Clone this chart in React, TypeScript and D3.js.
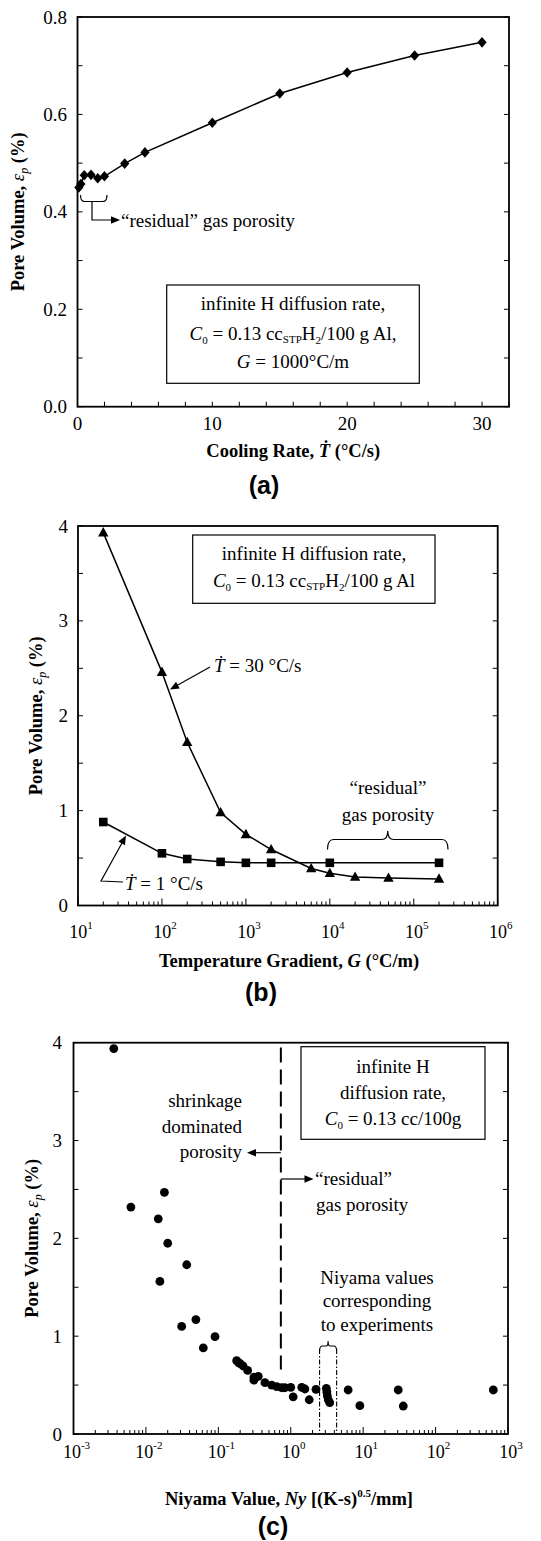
import React from "react";
import * as d3 from "d3";

// ---------- Panel (a): pore volume vs cooling rate ----------
const coolingRate = [0.1, 0.25, 0.5, 1, 1.5, 2, 3.5, 5, 10, 15, 20, 25, 30];
const poreVolumeA = [0.45, 0.457, 0.475, 0.476, 0.469, 0.473, 0.499, 0.522, 0.583, 0.643, 0.686, 0.721, 0.748];
const xTickLabelsA = [0, 10, 20, 30];
const yTickLabelsA = ["0.0", "0.2", "0.4", "0.6", "0.8"];

// ---------- Panel (b): pore volume vs temperature gradient ----------
const gradient30 = [20, 100, 200, 500, 1000, 2000, 6000, 1e4, 2e4, 5e4, 2e5];
const poreVolume30 = [3.93, 2.46, 1.72, 0.98, 0.75, 0.59, 0.39, 0.34, 0.3, 0.29, 0.28];
const gradient1 = [20, 100, 200, 500, 1000, 2000, 1e4, 2e5];
const poreVolume1 = [0.88, 0.55, 0.49, 0.46, 0.45, 0.45, 0.45, 0.45];
const xDecadesB = [1, 2, 3, 4, 5, 6];
const yTickLabelsB = [0, 1, 2, 3, 4];

// ---------- Panel (c): pore volume vs Niyama value ----------
const niyama = [0.0036, 0.0062, 0.0148, 0.0156, 0.018, 0.02, 0.0312, 0.0366, 0.049, 0.062, 0.09,
  0.179, 0.19, 0.2, 0.22, 0.254, 0.31, 0.31, 0.356, 0.44, 0.545, 0.64, 0.75, 0.83, 1.0, 1.08,
  1.42, 1.57, 1.8, 2.23, 3.1, 3.15, 3.2, 3.3, 3.45, 6.2, 9.0, 30.5, 35.8, 627];
const poreVolumeC = [3.94, 2.32, 2.2, 1.56, 2.47, 1.95, 1.1, 1.73, 1.17, 0.88, 0.995,
  0.75, 0.73, 0.72, 0.695, 0.65, 0.58, 0.55, 0.59, 0.525, 0.5, 0.485, 0.473, 0.473, 0.477, 0.38,
  0.477, 0.46, 0.35, 0.457, 0.467, 0.43, 0.39, 0.35, 0.32, 0.45, 0.29, 0.45, 0.286, 0.45];
const xDecadesC = [-3, -2, -1, 0, 1, 2, 3];
const yTickLabelsC = [0, 1, 2, 3, 4];
const niyamaDivide = 0.73;
const niyamaExperiments = [2.5, 4.3];

const serif = "'Liberation Serif','Times New Roman',serif";
const sans = "'Liberation Sans',Arial,sans-serif";

function arrowHead(x1: number, y1: number, x2: number, y2: number, len = 9, w = 3.8) {
  const a = Math.atan2(y2 - y1, x2 - x1);
  const bx = x2 - len * Math.cos(a), by = y2 - len * Math.sin(a);
  const px = -Math.sin(a) * w, py = Math.cos(a) * w;
  return `M${x2},${y2}L${bx + px},${by + py}L${bx - px},${by - py}Z`;
}

function braceDown(xL: number, xR: number, yEnd: number, yMid: number, tipY: number) {
  const xc = (xL + xR) / 2;
  const r = 6;
  return `M${xL},${yEnd}Q${xL},${yMid} ${xL + r},${yMid}L${xc - r},${yMid}Q${xc},${yMid} ${xc},${tipY}` +
    `Q${xc},${yMid} ${xc + r},${yMid}L${xR - r},${yMid}Q${xR},${yMid} ${xR},${yEnd}`;
}

function YTitle({ x, y }: { x: number; y: number }) {
  return (
    <text transform={`translate(${x},${y}) rotate(-90)`} textAnchor="middle" fontWeight="bold" fontSize={18.5} fontFamily={serif}>
      Pore Volume, <tspan fontStyle="italic" fontWeight="normal">ε</tspan>
      <tspan fontStyle="italic" fontWeight="normal" fontSize={12} dy={4}>p</tspan>
      <tspan dy={-4}> (%)</tspan>
    </text>
  );
}

function C0Line({ x, y, rest }: { x: number; y: number; rest: React.ReactNode }) {
  return (
    <text x={x} y={y} textAnchor="middle" fontSize={19} fontFamily={serif}>
      <tspan fontStyle="italic">C</tspan>
      <tspan fontSize={11} dy={4}>0</tspan>
      <tspan dy={-4}> = 0.13 cc</tspan>
      {rest}
    </text>
  );
}

export default function App() {
  // scales
  const xA = d3.scaleLinear().domain([0, 32]).range([77.5, 509]);
  const yA = d3.scaleLinear().domain([0, 0.8]).range([406.7, 17]);
  const xB = d3.scaleLog().domain([10, 1e6]).range([78, 497.7]);
  const yB = d3.scaleLinear().domain([0, 4]).range([905.5, 526]);
  const xC = d3.scaleLog().domain([1e-3, 1e3]).range([73.5, 508]);
  const yC = d3.scaleLinear().domain([0, 4]).range([1434, 1042.7]);

  const lineA = d3.line<number>().x((_, i) => xA(coolingRate[i])).y((d) => yA(d));
  const line30 = d3.line<number>().x((_, i) => xB(gradient30[i])).y((d) => yB(d));
  const line1 = d3.line<number>().x((_, i) => xB(gradient1[i])).y((d) => yB(d));

  const diamond = (cx: number, cy: number) => `M${cx},${cy - 5.3}L${cx + 4.6},${cy}L${cx},${cy + 5.3}L${cx - 4.6},${cy}Z`;
  const triangle = (cx: number, cy: number) => `M${cx},${cy - 5.6}L${cx + 5.2},${cy + 3.8}L${cx - 5.2},${cy + 3.8}Z`;
  const square = (cx: number, cy: number) => `M${cx - 4.3},${cy - 4.3}h8.6v8.6h-8.6Z`;

  const frameW = 1.8;
  const lw = 1.5;

  // Panel a ticks
  const [a0, a1] = xA.range();
  const [ayb, ayt] = yA.range();
  const ticksAx = xA.ticks(16);
  const ticksAy = yA.ticks(8);

  // Panel b ticks
  const [b0, b1] = xB.range();
  const [byb, byt] = yB.range();
  const ticksBx = xB.ticks();
  const ticksBy = yB.ticks(8);

  // Panel c ticks
  const [c0, c1] = xC.range();
  const [cyb, cyt] = yC.range();
  const ticksCx = xC.ticks();
  const ticksCy = yC.ticks(8);

  const isMajor = (v: number) => Math.abs(Math.log10(v) - Math.round(Math.log10(v))) < 1e-9;

  const xDiv = xC(niyamaDivide);

  return (
    <svg width={541} height={1541} style={{ position: "absolute", left: 0, top: 0, background: "#fff" }} fontFamily={serif}>
      <rect x={0} y={0} width={541} height={1541} fill="#fff" />

      {/* ================= Panel (a) ================= */}
      <g>
        {ticksAx.map((t) => (
          <line key={"ax" + t} x1={xA(t)} x2={xA(t)} y1={ayb} y2={ayb - 5} stroke="#000" strokeWidth={1} />
        ))}
        {ticksAy.map((t) => (
          <g key={"ay" + t}>
            <line x1={a0} x2={a0 + 5} y1={yA(t)} y2={yA(t)} stroke="#000" strokeWidth={1} />
            <line x1={a1} x2={a1 - 5} y1={yA(t)} y2={yA(t)} stroke="#000" strokeWidth={1} />
          </g>
        ))}
        <rect x={a0} y={ayt} width={a1 - a0} height={ayb - ayt} fill="none" stroke="#000" strokeWidth={frameW} />
        {yTickLabelsA.map((l) => (
          <text key={"ayl" + l} x={67} y={yA(+l) + 6.5} textAnchor="end" fontSize={19}>{l}</text>
        ))}
        {xTickLabelsA.map((l) => (
          <text key={"axl" + l} x={xA(l)} y={430} textAnchor="middle" fontSize={19}>{l}</text>
        ))}
        <path d={lineA(poreVolumeA) || ""} fill="none" stroke="#000" strokeWidth={lw} />
        {poreVolumeA.map((v, i) => (
          <path key={"am" + i} d={diamond(xA(coolingRate[i]), yA(v))} fill="#000" />
        ))}
        {/* residual bracket */}
        <path d="M80.5,195Q80.5,201.5 84.5,201.5L103,201.5Q107,201.5 107,195M92,201.5L92,220L113,220" fill="none" stroke="#000" strokeWidth={1.2} />
        <path d={arrowHead(100, 220, 120, 220)} fill="#000" />
        <text x={121} y={226.5} fontSize={19}>“residual” gas porosity</text>
        {/* box */}
        <rect x={166.7} y={285} width={252.6} height={98.3} fill="#fff" stroke="#000" strokeWidth={1.2} />
        <text x={293} y={310} textAnchor="middle" fontSize={19}>infinite H diffusion rate,</text>
        <C0Line x={293} y={340} rest={<>
          <tspan fontSize={11} dy={3}>STP</tspan>
          <tspan dy={-3}>H</tspan>
          <tspan fontSize={11} dy={4}>2</tspan>
          <tspan dy={-4}>/100 g Al,</tspan>
        </>} />
        <text x={293} y={368} textAnchor="middle" fontSize={19}>
          <tspan fontStyle="italic">G</tspan> = 1000°C/m
        </text>
        <YTitle x={24} y={(ayb + ayt) / 2} />
        <text x={(a0 + a1) / 2} y={457} textAnchor="middle" fontWeight="bold" fontSize={18.5}>
          Cooling Rate, <tspan fontStyle="italic">Ṫ</tspan>  (°C/s)
        </text>
        <text x={264} y={494} textAnchor="middle" fontWeight="bold" fontSize={25} fontFamily={sans}>(a)</text>
      </g>

      {/* ================= Panel (b) ================= */}
      <g>
        {ticksBx.map((t, i) => (
          <line key={"bx" + i} x1={xB(t)} x2={xB(t)} y1={byb} y2={byb - (isMajor(t) ? 7 : 4)} stroke="#000" strokeWidth={1} />
        ))}
        {ticksBy.map((t) => (
          <g key={"by" + t}>
            <line x1={b0} x2={b0 + 5} y1={yB(t)} y2={yB(t)} stroke="#000" strokeWidth={1} />
            <line x1={b1} x2={b1 - 5} y1={yB(t)} y2={yB(t)} stroke="#000" strokeWidth={1} />
          </g>
        ))}
        <rect x={b0} y={byt} width={b1 - b0} height={byb - byt} fill="none" stroke="#000" strokeWidth={frameW} />
        {yTickLabelsB.map((l) => (
          <text key={"byl" + l} x={68} y={yB(l) + 6.5} textAnchor="end" fontSize={19}>{l}</text>
        ))}
        {xDecadesB.map((e) => (
          <text key={"bxl" + e} x={xB(Math.pow(10, e)) + 3} y={938} textAnchor="middle" fontSize={18}>
            10<tspan fontSize={11} dy={-9}>{e}</tspan>
          </text>
        ))}
        <path d={line30(poreVolume30) || ""} fill="none" stroke="#000" strokeWidth={lw} />
        <path d={line1(poreVolume1) || ""} fill="none" stroke="#000" strokeWidth={lw} />
        {poreVolume30.map((v, i) => (
          <path key={"bt" + i} d={triangle(xB(gradient30[i]), yB(v))} fill="#000" />
        ))}
        {poreVolume1.map((v, i) => (
          <path key={"bs" + i} d={square(xB(gradient1[i]), yB(v))} fill="#000" />
        ))}
        {/* box */}
        <rect x={192.7} y={535} width={242.3} height={68.3} fill="#fff" stroke="#000" strokeWidth={1.2} />
        <text x={314} y={560} textAnchor="middle" fontSize={19}>infinite H diffusion rate,</text>
        <C0Line x={314} y={587} rest={<>
          <tspan fontSize={11} dy={3}>STP</tspan>
          <tspan dy={-3}>H</tspan>
          <tspan fontSize={11} dy={4}>2</tspan>
          <tspan dy={-4}>/100 g Al</tspan>
        </>} />
        {/* T = 30 label */}
        <line x1={210} y1={667} x2={176} y2={686} stroke="#000" strokeWidth={1.2} />
        <path d={arrowHead(210, 667, 170, 689.5)} fill="#000" />
        <text x={214} y={672} fontSize={19}>
          <tspan fontStyle="italic">Ṫ</tspan> = 30 °C/s
        </text>
        {/* T = 1 label */}
        <path d="M123,882L101,881L122,843" fill="none" stroke="#000" strokeWidth={1.2} />
        <path d={arrowHead(101, 881, 126, 835.5)} fill="#000" />
        <text x={125} y={890} fontSize={19}>
          <tspan fontStyle="italic">Ṫ</tspan> = 1 °C/s
        </text>
        {/* residual brace */}
        <text x={388} y={794} textAnchor="middle" fontSize={19}>“residual”</text>
        <text x={388} y={821} textAnchor="middle" fontSize={19}>gas porosity</text>
        <path d={braceDown(327.5, 448, 849.5, 839.5, 831)} fill="none" stroke="#000" strokeWidth={1.2} />
        <YTitle x={42} y={(byb + byt) / 2} />
        <text x={289} y={967} textAnchor="middle" fontWeight="bold" fontSize={18.5}>
          Temperature Gradient, <tspan fontStyle="italic">G</tspan> (°C/m)
        </text>
        <text x={261} y={1001} textAnchor="middle" fontWeight="bold" fontSize={25} fontFamily={sans}>(b)</text>
      </g>

      {/* ================= Panel (c) ================= */}
      <g>
        {ticksCx.map((t, i) => (
          <line key={"cx" + i} x1={xC(t)} x2={xC(t)} y1={cyb} y2={cyb - (isMajor(t) ? 7 : 4)} stroke="#000" strokeWidth={1} />
        ))}
        {ticksCy.map((t) => (
          <g key={"cy" + t}>
            <line x1={c0} x2={c0 + 5} y1={yC(t)} y2={yC(t)} stroke="#000" strokeWidth={1} />
            <line x1={c1} x2={c1 - 5} y1={yC(t)} y2={yC(t)} stroke="#000" strokeWidth={1} />
          </g>
        ))}
        <rect x={c0} y={cyt} width={c1 - c0} height={cyb - cyt} fill="none" stroke="#000" strokeWidth={frameW} />
        {yTickLabelsC.map((l) => (
          <text key={"cyl" + l} x={62} y={yC(l) + 6.5} textAnchor="end" fontSize={19}>{l}</text>
        ))}
        {xDecadesC.map((e) => (
          <text key={"cxl" + e} x={xC(Math.pow(10, e)) + 3} y={1458} textAnchor="middle" fontSize={18}>
            10<tspan fontSize={11} dy={-9}>{e}</tspan>
          </text>
        ))}
        {/* dashed divide */}
        <line x1={xDiv} x2={xDiv} y1={yC(3.95)} y2={yC(0.66)} stroke="#000" strokeWidth={2} strokeDasharray="15,7" />
        <line x1={xDiv} x2={252} y1={1152.7} y2={1152.7} stroke="#000" strokeWidth={1.2} />
        <path d={arrowHead(xDiv, 1152.7, 247, 1152.7)} fill="#000" />
        <line x1={xDiv} x2={308} y1={1179} y2={1179} stroke="#000" strokeWidth={1.2} />
        <path d={arrowHead(xDiv, 1179, 313.5, 1179)} fill="#000" />
        <text x={242} y={1107} textAnchor="end" fontSize={19}>shrinkage</text>
        <text x={242} y={1133} textAnchor="end" fontSize={19}>dominated</text>
        <text x={242} y={1158} textAnchor="end" fontSize={19}>porosity</text>
        <text x={315} y={1184.5} fontSize={19}>“residual”</text>
        <text x={316} y={1210.5} fontSize={19}>gas porosity</text>
        {/* box */}
        <rect x={301} y={1046.7} width={184} height={92.6} fill="#fff" stroke="#000" strokeWidth={1.2} />
        <text x={393} y={1073} textAnchor="middle" fontSize={19}>infinite H</text>
        <text x={393} y={1098.5} textAnchor="middle" fontSize={19}>diffusion rate,</text>
        <C0Line x={393} y={1125} rest={<tspan>/100g</tspan>} />
        {/* experiments */}
        <text x={377} y={1283.5} textAnchor="middle" fontSize={19}>Niyama values</text>
        <text x={377} y={1307} textAnchor="middle" fontSize={19}>corresponding</text>
        <text x={377} y={1330.5} textAnchor="middle" fontSize={19}>to experiments</text>
        {niyamaExperiments.map((v) => (
          <line key={"ne" + v} x1={xC(v)} x2={xC(v)} y1={1349} y2={cyb} stroke="#000" strokeWidth={1.1} strokeDasharray="5,2,1.5,2" />
        ))}
        <path d={`M${xC(niyamaExperiments[0])},1351Q${xC(niyamaExperiments[0])},1346 ${xC(niyamaExperiments[0]) + 3},1346L${(xC(niyamaExperiments[0]) + xC(niyamaExperiments[1])) / 2 - 2},1346Q${(xC(niyamaExperiments[0]) + xC(niyamaExperiments[1])) / 2},1346 ${(xC(niyamaExperiments[0]) + xC(niyamaExperiments[1])) / 2},1341Q${(xC(niyamaExperiments[0]) + xC(niyamaExperiments[1])) / 2},1346 ${(xC(niyamaExperiments[0]) + xC(niyamaExperiments[1])) / 2 + 2},1346L${xC(niyamaExperiments[1]) - 3},1346Q${xC(niyamaExperiments[1])},1346 ${xC(niyamaExperiments[1])},1351`} fill="none" stroke="#000" strokeWidth={1.1} />
        {poreVolumeC.map((v, i) => (
          <circle key={"cp" + i} cx={xC(niyama[i])} cy={yC(v)} r={4.4} fill="#000" />
        ))}
        <YTitle x={38} y={(cyb + cyt) / 2} />
        <text x={289} y={1505} textAnchor="middle" fontWeight="bold" fontSize={18.5}>
          Niyama Value, <tspan fontStyle="italic">Ny</tspan> [(K-s)<tspan fontSize={11} dy={-8}>0.5</tspan><tspan dy={8}>/mm]</tspan>
        </text>
        <text x={273} y={1535} textAnchor="middle" fontWeight="bold" fontSize={25} fontFamily={sans}>(c)</text>
      </g>
    </svg>
  );
}
